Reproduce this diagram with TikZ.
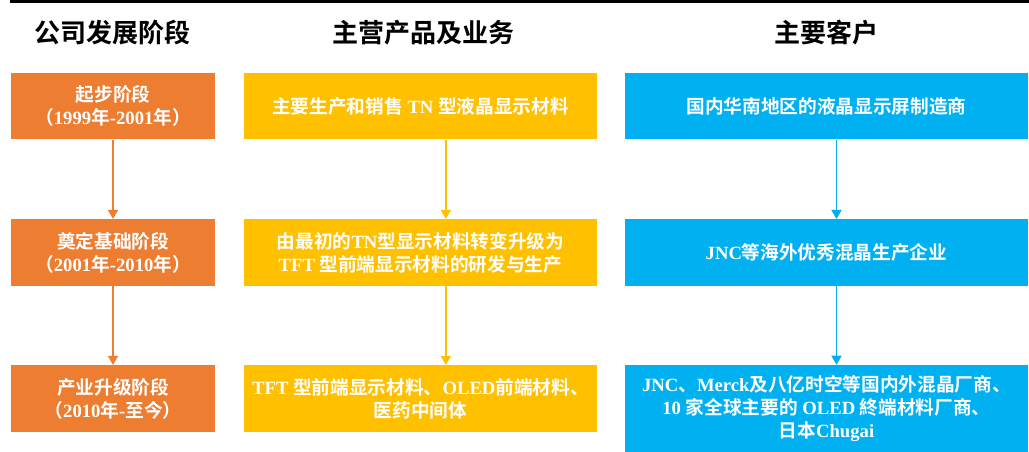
\documentclass[tikz,border=0pt]{standalone}
\usepackage{fontspec}
\setmainfont{Noto Sans CJK SC}[BoldFont={* Bold}]
\newfontfamily\latfont{Liberation Serif}
\newcommand{\en}[1]{{\latfont #1}}
\usetikzlibrary{arrows.meta}
\definecolor{stageorange}{HTML}{ED7D31}
\definecolor{prodyellow}{HTML}{FFC000}
\definecolor{custblue}{HTML}{00B0F0}

\begin{document}
\begin{tikzpicture}[x=0.75pt,y=-0.75pt,
	head/.style={font=\fontsize{19.5}{23}\selectfont\bfseries},
	box/.style={fill=#1,text=white,inner sep=0pt,align=center,
		minimum height=49.9pt,font=\fontsize{14}{17.2}\selectfont\bfseries},
	link/.style={draw=#1,line width=1.2pt,-{Triangle[length=6.75pt,width=7.5pt]}}]
				\useasboundingbox (0,0) rectangle (1029,452);
				\draw[line width=2.25pt] (10,2) -- (1029,2);
				
				\node[head] (h1) at (113,33) {公司发展阶段};
				\node[head] (h2) at (423,33) {主营产品及业务};
				\node[head] (h3) at (826.5,33) {主要客户};
				
				\node[box=stageorange,minimum width=153pt] (s1) at (113,106) {起步阶段\\（\en{1999}年\en{-2001}年）};
				\node[box=stageorange,minimum width=153pt] (s2) at (113,252.5) {奠定基础阶段\\（\en{2001}年\en{-2010}年）};
				\node[box=stageorange,minimum width=153pt] (s3) at (113,398.5) {产业升级阶段\\（\en{2010}年\en{-}至今）};
				\draw[link=stageorange] (s1.south) -- (s2.north);
				\draw[link=stageorange] (s2.south) -- (s3.north);
				
				\node[box=prodyellow,minimum width=264.75pt] (p1) at (420.5,106) {主要生产和销售\en{ TN }型液晶显示材料};
				\node[box=prodyellow,minimum width=264.75pt] (p2) at (420.5,252.5) {由最初的\en{TN}型显示材料转变升级为\\\en{TFT }型前端显示材料的研发与生产};
				\node[box=prodyellow,minimum width=264.75pt] (p3) at (420.5,398.5) {\en{TFT }型前端显示材料、\en{OLED}前端材料、\\医药中间体};
				\draw[link=prodyellow] ([xshift=19pt]p1.south) -- ([xshift=19pt]p2.north);
				\draw[link=prodyellow] ([xshift=19pt]p2.south) -- ([xshift=19pt]p3.north);
				
				\node[box=custblue,minimum width=302.25pt] (c1) at (826.5,106) {国内华南地区的液晶显示屏制造商};
				\node[box=custblue,minimum width=302.25pt] (c2) at (826.5,252.5) {\en{JNC}等海外优秀混晶生产企业};
				\node[box=custblue,minimum width=302.25pt,minimum height=65.25pt] (c3) at (826.5,408.5) {\en{JNC}、\en{Merck}及八亿时空等国内外混晶厂商、\\\en{10 }家全球主要的\en{ OLED }終端材料厂商、\\日本\en{Chugai}};
				\draw[link=custblue] ([xshift=7.5pt]c1.south) -- ([xshift=7.5pt]c2.north);
				\draw[link=custblue] ([xshift=7.5pt]c2.south) -- ([xshift=7.5pt]c3.north);
			\end{tikzpicture}
\end{document}
